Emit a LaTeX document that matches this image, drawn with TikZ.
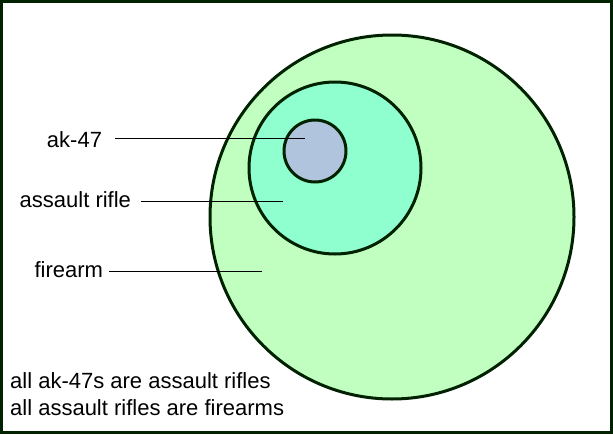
\documentclass[tikz,border=0pt]{standalone}
\usepackage{fontspec}
\setmainfont{Liberation Sans}
\usepackage{tikz}
\usetikzlibrary{positioning}
\definecolor{framegreen}{RGB}{0, 34, 0}
\definecolor{firearmfill}{RGB}{193, 255, 193}
\definecolor{riflefill}{RGB}{143, 255, 208}
\definecolor{akfill}{RGB}{176, 196, 222}

\begin{document}
\begin{tikzpicture}[
    x=1pt, y=-1pt,
    set/.style={draw=framegreen, line width=3pt},
    lbl/.style={font=\fontsize{22}{26}\selectfont, anchor=base east, inner sep=0pt, outer sep=0pt},
    note/.style={font=\fontsize{22}{27}\selectfont, anchor=base west, inner sep=0pt, align=left},
    pointer/.style={line width=1pt}
]
    \useasboundingbox (0,0) rectangle (613,434);
    % Frame
    \draw[framegreen, line width=3pt] (1.5,1.5) rectangle (611.5,432.5);

    % Sets
    \draw[set, fill=firearmfill] (392,217) circle (182);
    \draw[set, fill=riflefill] (335,168) circle (86);
    \draw[set, fill=akfill] (315,151) circle (31);

    % Labels
    \node[lbl] (ak) at (102,147) {ak-47};
    \node[lbl] (rifle) at (131,207) {assault rifle};
    \node[lbl] (firearm) at (103,277) {firearm};
    \coordinate (akin) at (305,138);
    \coordinate (riflein) at (283,201);
    \coordinate (firearmin) at (262,271);

    % Pointers
    \draw[pointer] ([xshift=13pt]ak.east |- akin) -- (akin);
    \draw[pointer] ([xshift=10pt]rifle.east |- riflein) -- (riflein);
    \draw[pointer] ([xshift=6pt]firearm.east |- firearmin) -- (firearmin);

    % Statements
    \node[note] (statements) at (10,415) {all ak-47s are assault rifles\\all assault rifles are firearms};
\end{tikzpicture}
\end{document}
